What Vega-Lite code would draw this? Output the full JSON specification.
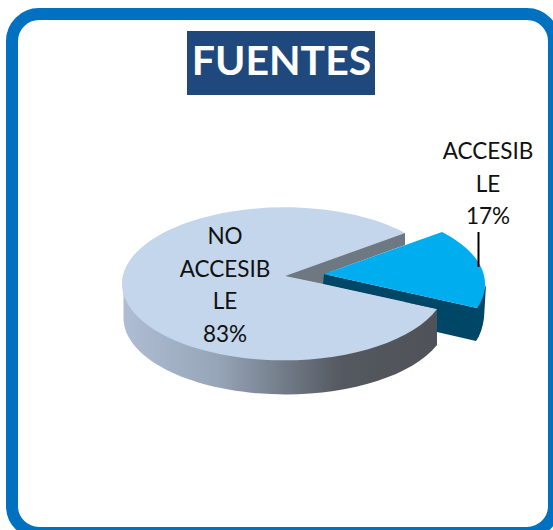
{
"$schema":"https://vega.github.io/schema/vega-lite/v6.json",
"width":553,"height":530,"padding":0,"autosize":{"type":"none"},
"background":"white",
"config":{"view":{"stroke":null},"text":{"font":"Lato"}},
"datasets":{"fuentes":[{"fuente":"ACCESIBLE","porcentaje":17,"etiqueta":"ACCESIB\nLE\n17%"},{"fuente":"NO ACCESIBLE","porcentaje":83,"etiqueta":"NO\nACCESIB\nLE\n83%"}],"titulo":[{"titulo":"FUENTES"}]},
"data":{"name":"fuentes"},
"layer":[
{"data":{"name":"titulo"},"mark":{"type":"point","filled":false,"opacity":1,"size":4,"stroke":"#0070c0","strokeWidth":12,"fill":null,"shape":"M-237.5 -251 L250.5 -251 A27 27 0 0 1 277.5 -224 L277.5 241 A27 27 0 0 1 250.5 268 L-237.5 268 A27 27 0 0 1 -264.5 241 L-264.5 -224 A27 27 0 0 1 -237.5 -251 Z"},"encoding":{}},
{"data":{"name":"titulo"},"mark":{"type":"point","filled":true,"opacity":1,"size":4,"fill":"#1f497d","strokeWidth":0,"shape":"M-89.5 -234 L98.5 -234 L98.5 -170 L-89.5 -170 Z"},"encoding":{}},
{"data":{"name":"titulo"},"mark":{"type":"text","font":"Lato","fontWeight":"bold","fontSize":41,"fill":"white","align":"center","baseline":"middle","dx":5,"dy":-202},"encoding":{"text":{"field":"titulo"}}},
{"transform":[{"filter":"datum.fuente === 'NO ACCESIBLE'"}],"mark":{"type":"point","filled":true,"opacity":1,"size":4,"strokeWidth":0,"fill":{"gradient":"linear","x1":0,"y1":0,"x2":1,"y2":0,"stops":[{"offset":0,"color":"#aebdd3"},{"offset":0.3,"color":"#97a5b8"},{"offset":0.55,"color":"#6b7480"},{"offset":0.7,"color":"#54585f"},{"offset":1,"color":"#4f5359"}]},"shape":"M-153 14 L160.5 40 L160.5 80 A162 76.5 0 0 1 -153 54 Z"},"encoding":{}},
{"transform":[{"filter":"datum.fuente === 'NO ACCESIBLE'"}],"mark":{"type":"point","filled":true,"opacity":1,"size":4,"strokeWidth":0,"fill":"#c3d6eb","shape":"M8.5 11 L128.5 -32 A162 76.5 0 1 0 160.5 44 Z"},"encoding":{}},
{"transform":[{"filter":"datum.fuente === 'NO ACCESIBLE'"}],"mark":{"type":"point","filled":true,"opacity":1,"size":4,"strokeWidth":0,"fill":"#6e7883","shape":"M8.5 11 L128.5 -32 L128.5 -20 L53.5 7 L46.5 19 Z"},"encoding":{}},
{"transform":[{"filter":"datum.fuente === 'ACCESIBLE'"}],"mark":{"type":"point","filled":true,"opacity":1,"size":4,"strokeWidth":0,"fill":"#004667","shape":"M47.5 9 L200.5 43 L209.5 20 L207.5 53 Q205.5 68 199.5 76 L160.5 67 L160.5 44 L46.5 19 Z"},"encoding":{}},
{"transform":[{"filter":"datum.fuente === 'ACCESIBLE'"}],"mark":{"type":"point","filled":true,"opacity":1,"size":4,"strokeWidth":0,"fill":"#00aeef","shape":"M47.5 9 L165.5 -33 A163 77 0 0 1 200.5 43 Z"},"encoding":{}},
{"transform":[{"filter":"datum.fuente === 'ACCESIBLE'"}],"mark":{"type":"point","filled":false,"opacity":1,"size":4,"fill":null,"stroke":"black","strokeWidth":2,"shape":"M202 -33 L202 2"},"encoding":{}},
{"transform":[{"filter":"datum.fuente === 'ACCESIBLE'"}],"mark":{"type":"text","font":"Lato","fontSize":22.5,"fill":"#111111","align":"center","baseline":"middle","lineBreak":"\n","lineHeight":32.6,"dx":211.5,"dy":-113},"encoding":{"text":{"field":"etiqueta"}}},
{"transform":[{"filter":"datum.fuente === 'NO ACCESIBLE'"}],"mark":{"type":"text","font":"Lato","fontSize":22.5,"fill":"#111111","align":"center","baseline":"middle","lineBreak":"\n","lineHeight":32.6,"dx":-51.5,"dy":-28},"encoding":{"text":{"field":"etiqueta"}}}
]
}
